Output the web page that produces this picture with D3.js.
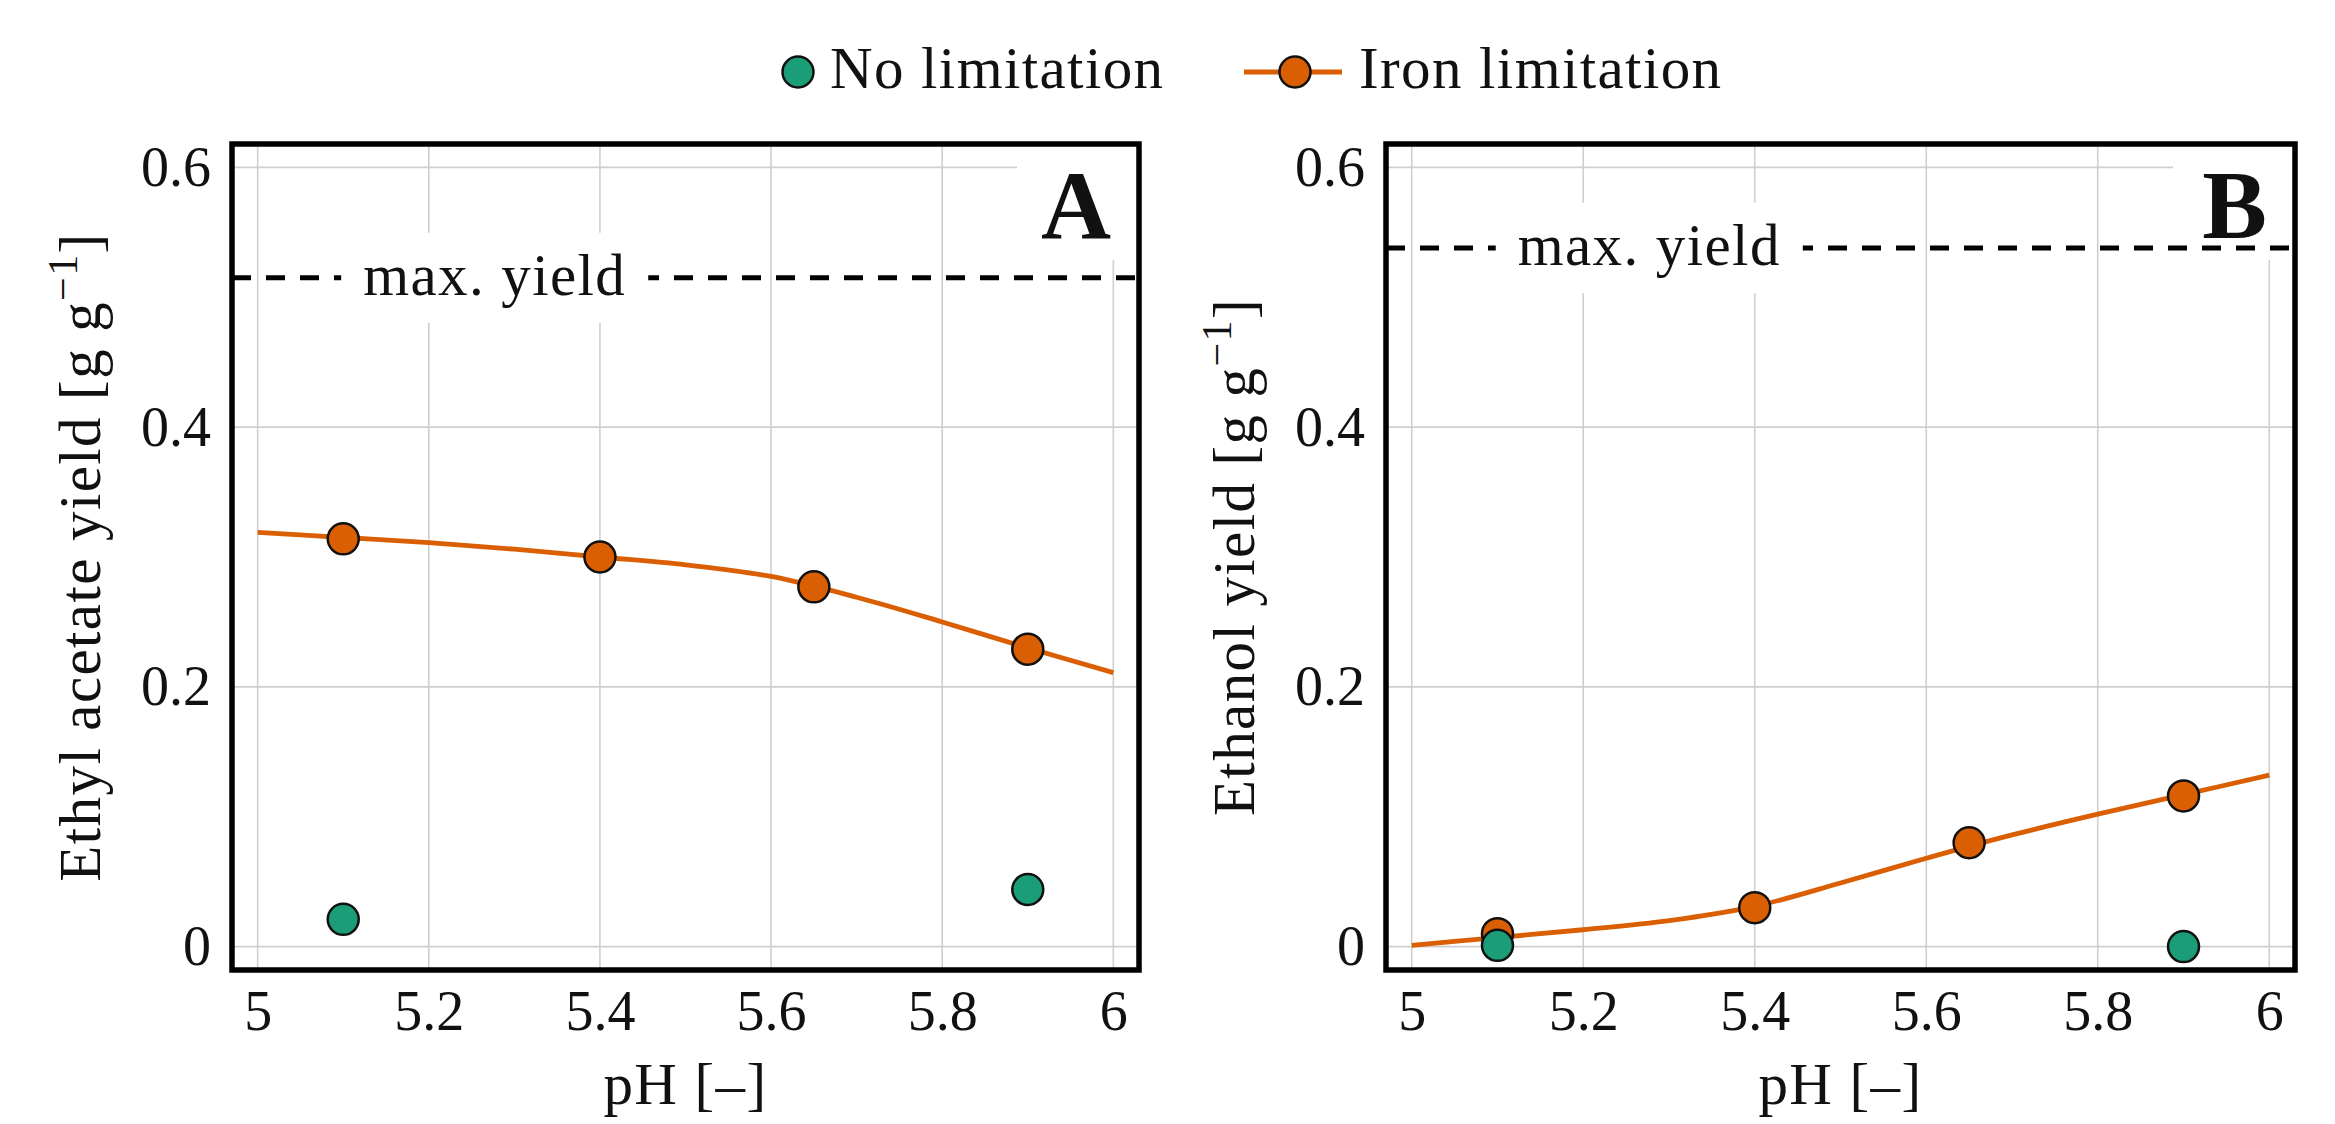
<!DOCTYPE html>
<html>
<head>
<meta charset="utf-8">
<script src="https://cdn.jsdelivr.net/npm/d3@7"></script>
<style>
  html, body { margin: 0; padding: 0; background: #fff; }
  svg { display: block; }
  text { font-family: "Liberation Serif", "DejaVu Serif", serif; fill: #111; }
</style>
</head>
<body>
<svg id="chart" width="2335" height="1124"></svg>
<script>
// ---- data ----
const phTicks = [5, 5.2, 5.4, 5.6, 5.8, 6];
const yieldTicks = [0, 0.2, 0.4, 0.6];
const seriesNames = ["No limitation", "Iron limitation"];
const panelLetters = ["A", "B"];
const yTitles = ["Ethyl acetate yield [g g", "Ethanol yield [g g"];
const maxYields = [0.515, 0.538];

const ironPH = [5.1, 5.4, 5.65, 5.9];
const eaIron = [0.314, 0.300, 0.277, 0.229];
const etIron = [0.010, 0.030, 0.080, 0.116];

const noLimPH = [5.1, 5.9];
const eaNoLim = [0.021, 0.044];
const etNoLim = [0.001, 0.000];

const fitPH = [5.0, 5.1, 5.2, 5.3, 5.4, 5.5, 5.6, 5.7, 5.8, 5.9, 6.0];
const eaFit = [0.319, 0.315, 0.311, 0.306, 0.300, 0.294, 0.285, 0.269, 0.250, 0.230, 0.211];
const etFit = [0.001, 0.007, 0.013, 0.020, 0.031, 0.049, 0.068, 0.086, 0.102, 0.117, 0.132];

// ---- styles ----
const ORANGE = "#D95F02", GREEN = "#1B9E77";
const FONT = 56;      // tick labels
const TFONT = 59;     // titles / legend / annotations
const LS = "1.4px";

const svg = d3.select("#chart");

const panels = [
  { left: 232, right: 1139, iron: eaIron, noLim: eaNoLim, fit: eaFit },
  { left: 1386, right: 2295, iron: etIron, noLim: etNoLim, fit: etFit }
];
const plotTop = 144, plotBottom = 970;
const R = 15.5;

panels.forEach((p, i) => {
  const g = svg.append("g");
  const x = d3.scaleLinear().domain([4.97, 6.03]).range([p.left, p.right]);
  const y = d3.scaleLinear().domain([-0.018, 0.618]).range([plotBottom, plotTop]);

  // grid
  g.append("g").selectAll("line").data(phTicks).join("line")
    .attr("x1", d => x(d)).attr("x2", d => x(d))
    .attr("y1", plotTop).attr("y2", plotBottom)
    .attr("stroke", "#cfcfcf").attr("stroke-width", 1.6);
  g.append("g").selectAll("line").data(yieldTicks).join("line")
    .attr("x1", p.left).attr("x2", p.right)
    .attr("y1", d => y(d)).attr("y2", d => y(d))
    .attr("stroke", "#cfcfcf").attr("stroke-width", 1.6);

  // panel letter with white background
  g.append("rect").attr("x", p.right - 122).attr("y", plotTop).attr("width", 122).attr("height", 260 - plotTop)
    .attr("fill", "#fff");
  g.append("text").attr("x", p.right - 28).attr("y", 238)
    .attr("text-anchor", "end").attr("font-size", 97).attr("font-weight", "bold")
    .text(panelLetters[i]);

  // max yield dashed line
  const my = y(maxYields[i]);
  g.append("line").attr("x1", p.left).attr("x2", p.right).attr("y1", my).attr("y2", my)
    .attr("stroke", "#000").attr("stroke-width", 5).attr("stroke-dasharray", "19 15");
  const lblX = x(5.277);
  const lblBox = g.append("rect").attr("fill", "#fff");
  const lbl = g.append("text").attr("x", lblX).attr("y", my + 17)
    .attr("text-anchor", "middle").attr("font-size", TFONT).attr("letter-spacing", LS).text("max. yield");
  const bb = lbl.node().getBBox();
  lblBox.attr("x", bb.x - 22).attr("width", bb.width + 44).attr("y", my - 45).attr("height", 90);

  // fitted curve
  const line = d3.line().x((d, k) => x(fitPH[k])).y(d => y(d)).curve(d3.curveCatmullRom.alpha(0.5));
  g.append("path").datum(p.fit).attr("d", line)
    .attr("fill", "none").attr("stroke", ORANGE).attr("stroke-width", 4.8);

  // iron limitation markers
  g.append("g").selectAll("circle").data(p.iron).join("circle")
    .attr("cx", (d, k) => x(ironPH[k])).attr("cy", d => y(d)).attr("r", R)
    .attr("fill", ORANGE).attr("stroke", "#111").attr("stroke-width", 2.5);
  // no limitation markers
  g.append("g").selectAll("circle").data(p.noLim).join("circle")
    .attr("cx", (d, k) => x(noLimPH[k])).attr("cy", d => y(d)).attr("r", R)
    .attr("fill", GREEN).attr("stroke", "#111").attr("stroke-width", 2.5);

  // axes (labels only)
  const ax = g.append("g").attr("transform", `translate(0,${plotBottom})`)
    .call(d3.axisBottom(x).tickValues(phTicks).tickSize(0).tickPadding(20).tickFormat(d3.format("~g")));
  const ay = g.append("g").attr("transform", `translate(${p.left},0)`)
    .call(d3.axisLeft(y).tickValues(yieldTicks).tickSize(0).tickPadding(21).tickFormat(d3.format("~g")));
  [ax, ay].forEach(a => {
    a.select(".domain").remove();
    a.selectAll("text").attr("font-size", FONT).attr("font-family", "Liberation Serif, serif").attr("fill", "#111");
  });

  // frame
  g.append("rect").attr("x", p.left).attr("y", plotTop).attr("width", p.right - p.left).attr("height", plotBottom - plotTop)
    .attr("fill", "none").attr("stroke", "#000").attr("stroke-width", 5.5);

  // axis titles
  g.append("text").attr("x", (p.left + p.right) / 2).attr("y", 1104)
    .attr("text-anchor", "middle").attr("font-size", TFONT).attr("letter-spacing", LS).text("pH [–]");
  const yt = g.append("text").attr("transform", `translate(${p.left - 132},${(plotTop + plotBottom) / 2}) rotate(-90)`)
    .attr("text-anchor", "middle").attr("font-size", TFONT).attr("letter-spacing", LS);
  yt.append("tspan").text(yTitles[i]);
  yt.append("tspan").attr("font-size", 42).attr("dy", -23).text("−1");
  yt.append("tspan").attr("dy", 23).text("]");
});

// legend
const leg = svg.append("g");
leg.append("circle").attr("cx", 798).attr("cy", 72).attr("r", R)
  .attr("fill", GREEN).attr("stroke", "#111").attr("stroke-width", 2.5);
leg.append("text").attr("x", 830).attr("y", 88).attr("font-size", TFONT).attr("letter-spacing", LS).text(seriesNames[0]);
leg.append("line").attr("x1", 1244).attr("x2", 1342).attr("y1", 72).attr("y2", 72)
  .attr("stroke", ORANGE).attr("stroke-width", 4.8);
leg.append("circle").attr("cx", 1295).attr("cy", 72).attr("r", R)
  .attr("fill", ORANGE).attr("stroke", "#111").attr("stroke-width", 2.5);
leg.append("text").attr("x", 1359).attr("y", 88).attr("font-size", TFONT).attr("letter-spacing", LS).text(seriesNames[1]);
</script>
</body>
</html>
